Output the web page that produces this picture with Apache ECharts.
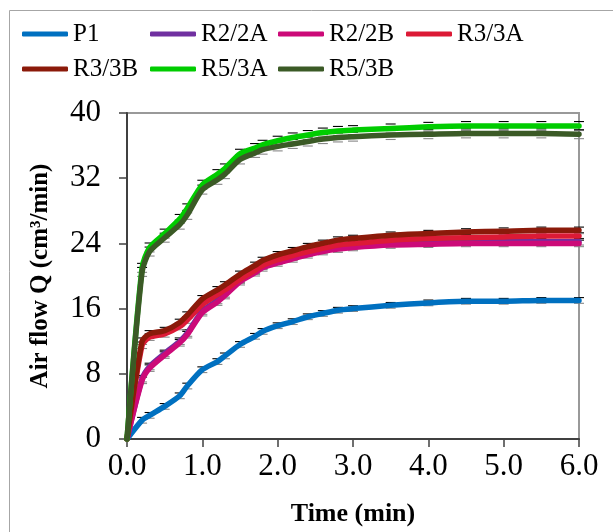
<!DOCTYPE html>
<html><head><meta charset="utf-8">
<script src="https://cdn.jsdelivr.net/npm/echarts@6/dist/echarts.min.js"></script>
<style>html,body{margin:0;padding:0;background:#fff}#c{width:613px;height:532px}</style>
</head><body><div id="c"></div>
<script>
const times = [0, 0.2, 0.3, 0.5, 0.7, 0.8, 1.0, 1.2, 1.3, 1.5, 1.7, 1.8, 2.0, 2.2, 2.4, 2.6, 2.8, 3.0, 3.5, 4.0, 4.5, 5.0, 5.5, 6.0];
const P1    = [0, 2.3, 2.9, 4.0, 5.3, 6.5, 8.5, 9.5, 10.2, 11.6, 12.6, 13.2, 13.9, 14.4, 15.0, 15.4, 15.8, 16.0, 16.4, 16.7, 16.9, 16.9, 17.0, 17.0];
const R2_2A = [0, 7.4, 8.9, 10.5, 12.0, 13.0, 15.7, 17.0, 17.8, 19.5, 20.6, 21.2, 21.8, 22.3, 22.8, 23.2, 23.5, 23.7, 24.0, 24.1, 24.2, 24.2, 24.2, 24.2];
const R2_2B = [0, 7.2, 8.7, 10.3, 11.8, 12.8, 15.5, 16.8, 17.6, 19.3, 20.4, 21.0, 21.6, 22.1, 22.6, 23.0, 23.3, 23.5, 23.8, 23.9, 24.0, 24.0, 24.0, 24.0];
const R3_3A = [0, 11.5, 12.5, 12.9, 13.8, 14.6, 16.5, 17.7, 18.3, 19.6, 20.7, 21.3, 22.0, 22.5, 23.0, 23.4, 23.8, 24.0, 24.4, 24.6, 24.7, 24.8, 24.9, 24.9];
const R3_3B = [0, 12.0, 12.9, 13.3, 14.3, 15.2, 17.2, 18.3, 18.9, 20.2, 21.3, 21.9, 22.6, 23.1, 23.6, 24.0, 24.4, 24.6, 25.0, 25.2, 25.4, 25.5, 25.6, 25.6];
const R5_3A = [0, 21.0, 23.5, 25.2, 27.0, 28.3, 31.2, 32.5, 33.2, 35.0, 35.7, 36.1, 36.6, 37.0, 37.3, 37.6, 37.8, 37.9, 38.1, 38.3, 38.4, 38.4, 38.4, 38.4];
const R5_3B = [0, 20.5, 23.0, 24.7, 26.3, 27.5, 30.6, 31.8, 32.5, 34.3, 35.1, 35.5, 35.9, 36.2, 36.5, 36.8, 37.0, 37.1, 37.3, 37.4, 37.5, 37.5, 37.5, 37.4];
const errP1 = 0.35, errR2 = 0.4, errR3 = 0.4, errR5 = 0.55;
const seriesNames = ['P1', 'R2/2A', 'R2/2B', 'R3/3A', 'R3/3B', 'R5/3A', 'R5/3B'];
const seriesValues = [P1, R2_2A, R2_2B, R3_3A, R3_3B, R5_3A, R5_3B];
const seriesErr = [errP1, errR2, errR2, errR3, errR3, errR5, errR5];
const colors = ['#0070c0', '#7030a0', '#cc0a78', '#dc1a36', '#8b1a0a', '#00cc00', '#3b5a26'];
const xTicks = [0, 1, 2, 3, 4, 5, 6];
const yTicks = [0, 8, 16, 24, 32, 40];

const serif = '"Liberation Serif", "Times New Roman", serif';
const chart = echarts.init(document.getElementById('c'), null, {renderer: 'canvas'});

const errSeries = seriesValues.map((vals, i) => ({
  type: 'custom',
  name: seriesNames[i] + ' err',
  z: 1,
  silent: true,
  data: times.map((t, k) => [t, vals[k], seriesErr[i]]).filter(d => d[0] > 0),
  renderItem: function (params, api) {
    const x = api.value(0), y = api.value(1), e = api.value(2);
    const hi = api.coord([x, y + e]);
    const lo = api.coord([x, y - e]);
    const w = 5;
    return {
      type: 'group',
      children: [
        {type: 'line', shape: {x1: hi[0] - w, y1: hi[1], x2: hi[0] + w, y2: hi[1]}, style: {stroke: '#000', lineWidth: 1.1}},
        {type: 'line', shape: {x1: lo[0] - w, y1: lo[1], x2: lo[0] + w, y2: lo[1]}, style: {stroke: '#888', lineWidth: 1.1}}
      ]
    };
  }
}));

const lineSeries = seriesValues.map((vals, i) => ({
  type: 'line',
  name: seriesNames[i],
  z: 2 + i,
  data: times.map((t, k) => [t, vals[k]]),
  symbol: 'none',
  smooth: 0.25,
  lineStyle: {width: 5.5, color: colors[i], cap: 'round', join: 'round'},
  itemStyle: {color: colors[i]},
  animation: false
}));

const legendCommon = {
  orient: 'horizontal',
  itemWidth: 46,
  itemHeight: 5,
  itemGap: 0,
  icon: 'roundRect',
  textStyle: {fontFamily: serif, fontSize: 25, color: '#000', width: 77, lineHeight: 28},
  selectedMode: false
};

chart.setOption({
  animation: false,
  color: colors,
  graphic: [{
    type: 'rect', shape: {x: 9.5, y: 10.5, width: 700, height: 600},
    style: {fill: 'none', stroke: '#a6a6a6', lineWidth: 1}, z: -1
  }],
  legend: [
    Object.assign({}, legendCommon, {left: 17, top: 15, data: seriesNames.slice(0, 4)}),
    Object.assign({}, legendCommon, {left: 17, top: 50, data: seriesNames.slice(4)})
  ],
  grid: {left: 127, right: 34, top: 113, bottom: 91, show: true, borderColor: '#999', borderWidth: 2, containLabel: false},
  xAxis: {
    type: 'value', min: 0, max: 6, interval: 1,
    name: 'Time (min)', nameLocation: 'middle', nameGap: 62,
    nameTextStyle: {fontFamily: serif, fontSize: 26, fontWeight: 'bold', color: '#000'},
    axisLine: {show: true, lineStyle: {color: '#404040', width: 2}},
    axisTick: {show: true, inside: false, length: 8, lineStyle: {color: '#404040', width: 1.5}},
    axisLabel: {fontFamily: serif, fontSize: 31, color: '#000', margin: 12,
      formatter: v => xTicks.includes(v) ? v.toFixed(1) : ''},
    splitLine: {show: false}
  },
  yAxis: {
    type: 'value', min: 0, max: 40, interval: 8,
    name: 'Air flow Q (cm³/min)', nameLocation: 'middle', nameGap: 74, nameRotate: 90,
    nameTextStyle: {fontFamily: serif, fontSize: 25, fontWeight: 'bold', color: '#000'},
    axisLine: {show: true, lineStyle: {color: '#404040', width: 2}},
    axisTick: {show: true, inside: false, length: 8, lineStyle: {color: '#404040', width: 1.5}},
    axisLabel: {fontFamily: serif, fontSize: 31, color: '#000', margin: 26,
      formatter: v => yTicks.includes(v) ? String(v) : ''},
    splitLine: {show: false}
  },
  series: errSeries.concat(lineSeries)
});
</script>
</body></html>
